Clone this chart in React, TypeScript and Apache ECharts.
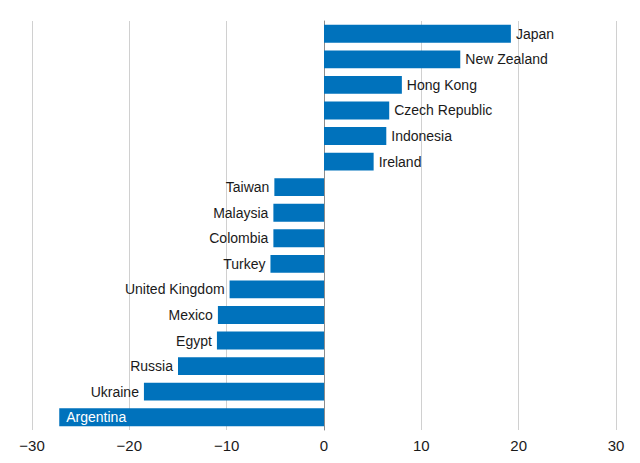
import React, { useEffect, useRef } from "react";
import * as echarts from "echarts";

const countries = [
  "Japan", "New Zealand", "Hong Kong", "Czech Republic", "Indonesia", "Ireland",
  "Taiwan", "Malaysia", "Colombia", "Turkey", "United Kingdom", "Mexico",
  "Egypt", "Russia", "Ukraine", "Argentina",
];
const values = [
  19.2, 14.0, 8.0, 6.7, 6.4, 5.1,
  -5.1, -5.2, -5.2, -5.5, -9.7, -10.9,
  -11.0, -15.0, -18.5, -27.2,
];
const insideLabel = ["Argentina"];

const FONT = "Liberation Sans";
const BLUE = "#0072BC";
const TEXT = "#1a1a1a";

export default function App() {
  const ref = useRef<HTMLDivElement>(null);
  useEffect(() => {
    if (!ref.current) return;
    const chart = echarts.init(ref.current, null, { renderer: "svg" });
    const data = values.map((v, i) => {
      const name = countries[i];
      const inside = insideLabel.includes(name);
      return {
        value: v,
        label: inside
          ? { position: "insideLeft", color: "#ffffff", distance: 7 }
          : { position: v >= 0 ? "right" : "left", color: TEXT, distance: 5 },
      };
    });
    chart.setOption({
      animation: false,
      backgroundColor: "#ffffff",
      grid: { left: 32, right: 24, top: 21, bottom: 33, containLabel: false },
      xAxis: {
        type: "value",
        min: -30,
        max: 30,
        interval: 10,
        axisLine: { show: false },
        axisTick: { show: false },
        splitLine: { show: true, lineStyle: { color: "#d0d0d0", width: 1 } },
        axisLabel: {
          color: TEXT,
          fontFamily: FONT,
          fontSize: 15,
          margin: 8,
          formatter: (v: number) => String(v).replace("-", "\u2212"),
        },
      },
      yAxis: {
        type: "category",
        data: countries,
        inverse: true,
        axisLabel: { show: false },
        axisTick: { show: false },
        axisLine: { show: true, onZero: true, lineStyle: { color: "#8c8c8c", width: 1 } },
        splitLine: { show: false },
      },
      series: [
        {
          type: "bar",
          data,
          barCategoryGap: "30%",
          itemStyle: { color: BLUE },
          label: {
            show: true,
            formatter: (p: any) => countries[p.dataIndex],
            fontFamily: FONT,
            fontSize: 14,
          },
        },
      ],
    });
    return () => chart.dispose();
  }, []);
  return (
    <div
      ref={ref}
      style={{ position: "absolute", left: 0, top: 0, width: 640, height: 463 }}
    />
  );
}
